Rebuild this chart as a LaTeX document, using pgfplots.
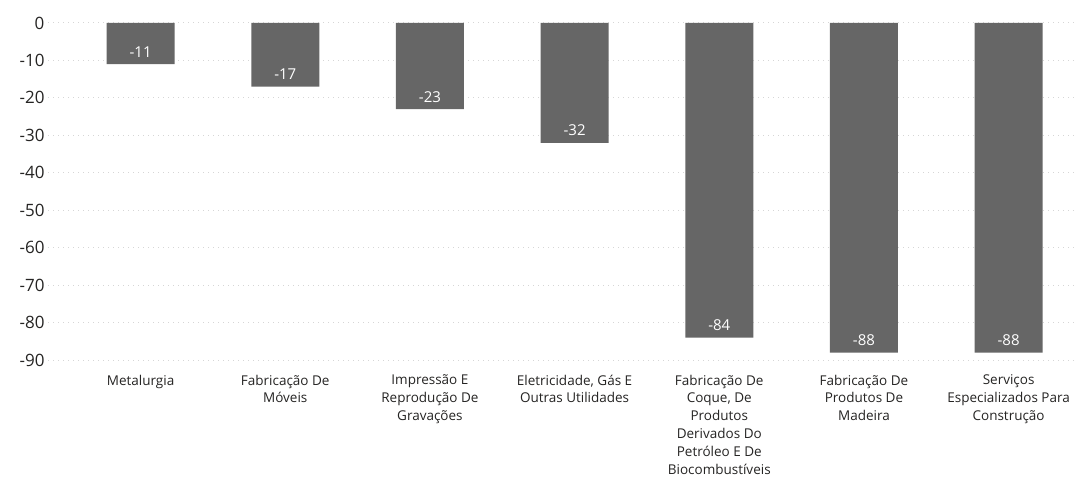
\documentclass[border=0pt]{standalone}
\usepackage{pgfplots}
\pgfplotsset{compat=1.18}
\usepackage{fontspec}
\setmainfont{Open Sans}
\definecolor{barc}{HTML}{666666}
\definecolor{txt}{HTML}{252423}
\definecolor{gridc}{HTML}{D6D6D6}
\begin{document}
\begin{tikzpicture}
\path[use as bounding box] (-48pt,-111pt) rectangle (1030pt,366pt);
\begin{axis}[
  at={(0pt,0pt)}, anchor=south west,
  scale only axis, width=1030pt, height=345pt,
  xmin=-0.64, xmax=6.48, ymin=-91.6, ymax=0.53,
  ybar, bar width=68pt, bar shift=0pt,
  axis line style={draw=none}, tick style={draw=none},
  ytick={-90,-80,...,0},
  xtick={0,...,6},
  xticklabels={Metalurgia,
    {Fabricação De\\Móveis},
    {Impressão E\\Reprodução De\\Gravações},
    {Eletricidade, Gás E\\Outras Utilidades},
    {Fabricação De\\Coque, De\\Produtos\\Derivados Do\\Petróleo E De\\Biocombustíveis},
    {Fabricação De\\Produtos De\\Madeira},
    {Serviços\\Especializados Para\\Construção}},
  ymajorgrids, grid style={gridc, dash pattern=on 1pt off 4pt, line width=1pt},
  /pgf/number format/assume math mode=true,
  yticklabel style={font=\fontsize{17}{20}\selectfont, text=txt},
  xticklabel style={font=\fontsize{13.5}{17.8}\selectfont, text=txt, align=center, anchor=north, yshift=-1pt},
  nodes near coords,
  every node near coord/.append style={font=\fontsize{15}{18}\selectfont, text=white, anchor=base, yshift=7pt},
]
\addplot[fill=barc, draw=none] coordinates {(0,-11) (1,-17) (2,-23) (3,-32) (4,-84) (5,-88) (6,-88)};
\end{axis}
\end{tikzpicture}
\end{document}
